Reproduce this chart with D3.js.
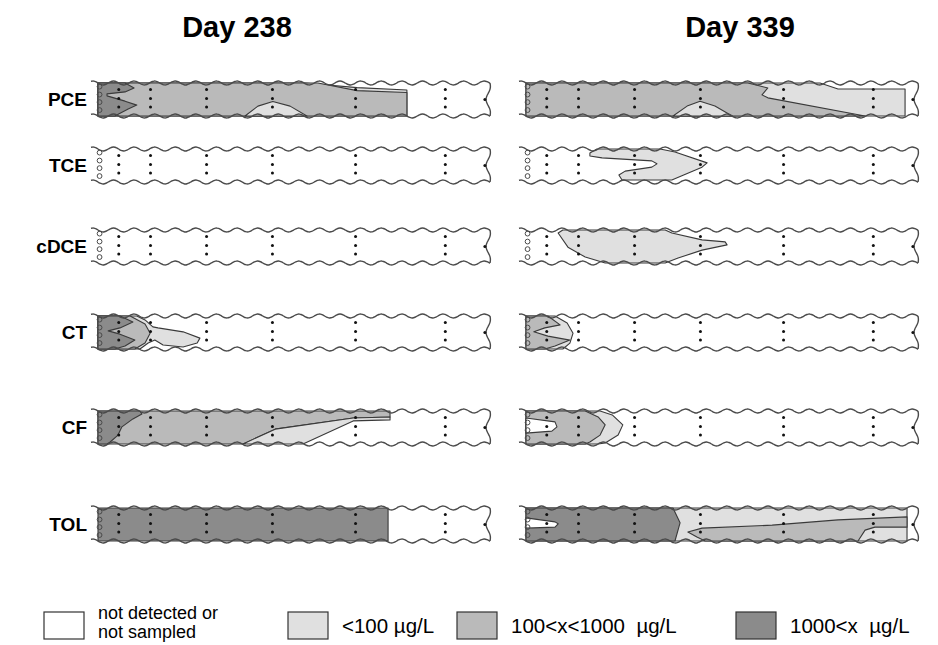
<!DOCTYPE html>
<html>
<head>
<meta charset="utf-8">
<script src="https://cdn.jsdelivr.net/npm/d3@7"></script>
<style>
  body { margin: 0; background: #fff; }
  svg { font-family: "Liberation Sans", Arial, sans-serif; }
  .legend text { white-space: pre; }
</style>
</head>
<body>
<div id="chart"></div>
<script>
// concentration classes and their legend text
var classKeys = ["none", "low", "mid", "high"];
var classLabels = [["not detected or", "not sampled"], ["<100 \u00b5g/L"], ["100<x<1000  \u00b5g/L"], ["1000<x  \u00b5g/L"]];

var days = ["Day 238", "Day 339"];
var compounds = ["PCE", "TCE", "cDCE", "CT", "CF", "TOL"];

// sampling ports: distance along the column (% of length), lateral position (0 = top, 1 = bottom)
var portCols = [5.3, 13.4, 27.7, 44.5, 65.7, 88.6];
var portRows = [0.2, 0.47, 0.73];
var endPort = [98.7, 0.5];
var inletRows = [0.11, 0.35, 0.58, 0.82];

// contour zones, drawn in order: [class, polygon in (distance %, lateral)]
var zones238 = {
  PCE: [
    ["low", [[0,0],[52.8,0],[66.1,0.14],[78.8,0.21],[78.8,1],[0,1]]],
    ["mid", [[0,0],[56.1,0],[66.1,0.23],[78.8,0.29],[78.8,1],[0,1]]],
    ["low", [[37.5,1],[40.8,0.7],[44.6,0.56],[49,0.7],[53.3,1]]],
    ["high", [[0,0],[6.9,0],[9.2,0.15],[6.9,0.27],[2.3,0.33],[2.3,0.39],[6.9,0.55],[9.9,0.67],[7.7,0.79],[4.3,1],[0,1]]]
  ],
  TCE: [],
  cDCE: [],
  CT: [
    ["low", [[0,0],[9.9,0],[12,0.12],[14,0.33],[15.3,0.36],[21.7,0.48],[26,0.67],[25.3,0.82],[21.7,0.94],[16.6,0.88],[14.5,0.73],[12.8,0.82],[10.7,1],[0,1]]],
    ["mid", [[0,0],[8.2,0],[12,0.24],[13.3,0.52],[12,0.82],[9.4,1],[0,1]]],
    ["high", [[0,0],[5.6,0],[8.9,0.18],[5.6,0.36],[2.6,0.45],[5.6,0.55],[9.4,0.73],[6.9,0.91],[4.3,1],[0,1]]]
  ],
  CF: [
    ["mid", [[0,0],[74.5,0],[74.5,0.18],[65.1,0.21],[45.2,0.55],[37,1],[0,1]]],
    ["low", [[37,1],[45.2,0.55],[65.1,0.21],[74.5,0.18],[74.5,0.27],[65.1,0.3],[52.3,1]]],
    ["high", [[0,0],[10.7,0],[11.2,0.09],[8.9,0.24],[6.1,0.48],[5.1,0.73],[3.1,0.94],[2.3,1],[0,1]]]
  ],
  TOL: [
    ["high", [[0,0],[74,0],[74,1],[0,1]]]
  ]
};

var zones339 = {
  PCE: [
    ["low", [[0,0],[75,0],[79.6,0.18],[96.7,0.18],[96.7,1],[0,1]]],
    ["mid", [[0,0],[56.6,0],[61.7,0.15],[60.2,0.36],[61.7,0.45],[86.5,1],[0,1]]],
    ["low", [[37.5,1],[41.1,0.7],[44.4,0.55],[48.2,0.7],[52.6,1]]]
  ],
  TCE: [
    ["low", [[16.3,0.12],[18.1,0],[34.2,0],[38,0.09],[46.2,0.42],[44.9,0.55],[37.2,0.94],[24.5,0.94],[23.7,0.79],[25.3,0.67],[32.1,0.55],[33.4,0.45],[32.1,0.36],[19.4,0.27],[16.3,0.21]]]
  ],
  cDCE: [
    ["low", [[8.2,0.09],[9.4,0],[35.5,0],[37.2,0.09],[44.9,0.3],[50.8,0.36],[51.3,0.45],[44.9,0.61],[38.8,0.85],[35.5,1],[20.2,1],[15.1,0.82],[10.7,0.52]]]
  ],
  CT: [
    ["low", [[0,0],[7.4,0],[10.5,0.21],[12,0.52],[11.2,0.82],[9.4,1],[0,1]]],
    ["mid", [[0,0],[5.6,0],[8.7,0.27],[4.8,0.36],[2,0.48],[5.6,0.61],[11.2,0.73],[7.4,0.91],[4.8,1],[0,1]]]
  ],
  CF: [
    ["low", [[0,0],[18.9,0],[22,0.12],[24.7,0.42],[23.5,0.73],[20.2,0.97],[18.4,1],[0,1]]],
    ["mid", [[0,0],[15.1,0],[18.4,0.18],[20.2,0.42],[18.9,0.73],[16.3,0.94],[15.1,1],[0,1]]],
    ["none", [[0,0.21],[7.4,0.33],[7.9,0.48],[6.6,0.61],[0,0.67]]]
  ],
  TOL: [
    ["low", [[0,0],[97.2,0],[97.2,1],[0,1]]],
    ["mid", [[41.3,0.73],[44.9,0.61],[62.8,0.52],[79.6,0.36],[97.2,0.27],[97.2,0.58],[89,0.58],[86.5,0.67],[84.7,1],[45.7,1],[43.6,0.88]]],
    ["high", [[0,0],[37.5,0],[39.3,0.45],[38,1],[0,1]]],
    ["none", [[0,0.3],[7.4,0.42],[8.2,0.48],[7.4,0.58],[0,0.61]]]
  ]
};
var zonesByDay = [zones238, zones339];

// Set the dimensions of the canvas
var width = 938, height = 645;
var colors = d3.scaleOrdinal().domain(classKeys).range(["#ffffff", "#e0e0e0", "#bababa", "#8b8b8b"]);

var panelLeft = [98, 526], panelWidth = 392;
var titleX = [237, 740];
var rowTop = d3.scaleOrdinal().domain(compounds).range([83, 149, 230, 316, 411, 508]);
var stripH = 33;

var svg = d3.select("#chart")
  .append("svg")
    .attr("width", width)
    .attr("height", height);

// day titles
svg.selectAll(".title")
  .data(days)
  .enter().append("text")
    .attr("class", "title")
    .attr("x", function(d, i) { return titleX[i]; })
    .attr("y", 37)
    .attr("text-anchor", "middle")
    .style("font-size", "29px")
    .style("font-weight", "bold")
    .text(function(d) { return d; });

// compound labels
svg.selectAll(".rowlabel")
  .data(compounds)
  .enter().append("text")
    .attr("class", "rowlabel")
    .attr("x", 87)
    .attr("y", function(d) { return rowTop(d) + stripH / 2 + 6; })
    .attr("text-anchor", "end")
    .style("font-size", "19px")
    .style("font-weight", "bold")
    .text(function(d) { return d; });

var poly = d3.line().curve(d3.curveLinearClosed);

days.forEach(function(day, di) {
  var x = d3.scaleLinear().domain([0, 100]).range([panelLeft[di], panelLeft[di] + panelWidth]);

  compounds.forEach(function(c) {
    var y = d3.scaleLinear().domain([0, 1]).range([rowTop(c), rowTop(c) + stripH]);
    var g = svg.append("g").attr("class", "strip");

    // concentration zones
    g.selectAll("path.zone")
      .data(zonesByDay[di][c])
      .enter().append("path")
        .attr("class", "zone")
        .attr("d", function(z) { return poly(z[1].map(function(p) { return [x(p[0]), y(p[1])]; })); })
        .attr("fill", function(z) { return colors(z[0]); })
        .attr("stroke", "#3a3a3a")
        .attr("stroke-width", 1.1)
        .attr("stroke-linejoin", "round");

    // wavy column walls
    var wave = d3.line().curve(d3.curveBasis);
    var x0 = x(0) - 7, x1 = x(100);
    [0, 1].forEach(function(side) {
      var pts = d3.range(x0, x1 + 0.1, 1.5).map(function(px) {
        return [px, y(side) + 2 * Math.sin((px - x(0)) / 20.6 * 2 * Math.PI)];
      });
      g.append("path")
        .attr("d", wave(pts))
        .attr("fill", "none")
        .attr("stroke", "#4a4a4a")
        .attr("stroke-width", 1.4);
    });
    var endPts = d3.range(0, 1.001, 0.05).map(function(t) {
      return [x1 - 2.5 * Math.sin(t * Math.PI) + 1.5 * Math.sin(t * 3 * Math.PI), y(t)];
    });
    g.append("path")
      .attr("d", wave(endPts))
      .attr("fill", "none")
      .attr("stroke", "#4a4a4a")
      .attr("stroke-width", 1.4);

    // inlet ports
    g.selectAll("circle.inlet")
      .data(inletRows)
      .enter().append("circle")
        .attr("class", "inlet")
        .attr("cx", x(0.4))
        .attr("cy", function(d) { return y(d); })
        .attr("r", 2.4)
        .attr("fill", "none")
        .attr("stroke", "#4a4a4a")
        .attr("stroke-width", 1);

    // sampling ports
    var ports = [];
    portCols.forEach(function(px) { portRows.forEach(function(py) { ports.push([px, py]); }); });
    ports.push(endPort);
    g.selectAll("circle.port")
      .data(ports)
      .enter().append("circle")
        .attr("class", "port")
        .attr("cx", function(d) { return x(d[0]); })
        .attr("cy", function(d) { return y(d[1]); })
        .attr("r", 1.5)
        .attr("fill", "#111");
  });
});

// legend
var legendX = [44, 288, 457, 736];
var legend = svg.selectAll(".legend")
  .data(classKeys)
  .enter().append("g")
    .attr("class", "legend")
    .attr("transform", function(d, i) { return "translate(" + legendX[i] + ",612)"; });

legend.append("rect")
  .attr("width", 40)
  .attr("height", 27)
  .attr("fill", function(d) { return colors(d); })
  .attr("stroke", "#333")
  .attr("stroke-width", 1.2);

legend.each(function(d, i) {
  var lines = classLabels[i];
  d3.select(this).selectAll("text")
    .data(lines)
    .enter().append("text")
      .attr("x", 54)
      .attr("y", function(t, j) { return lines.length > 1 ? 7 + j * 19 : 21; })
      .style("font-size", lines.length > 1 ? "18px" : "20.5px")
      .text(function(t) { return t; });
});
</script>
</body>
</html>
